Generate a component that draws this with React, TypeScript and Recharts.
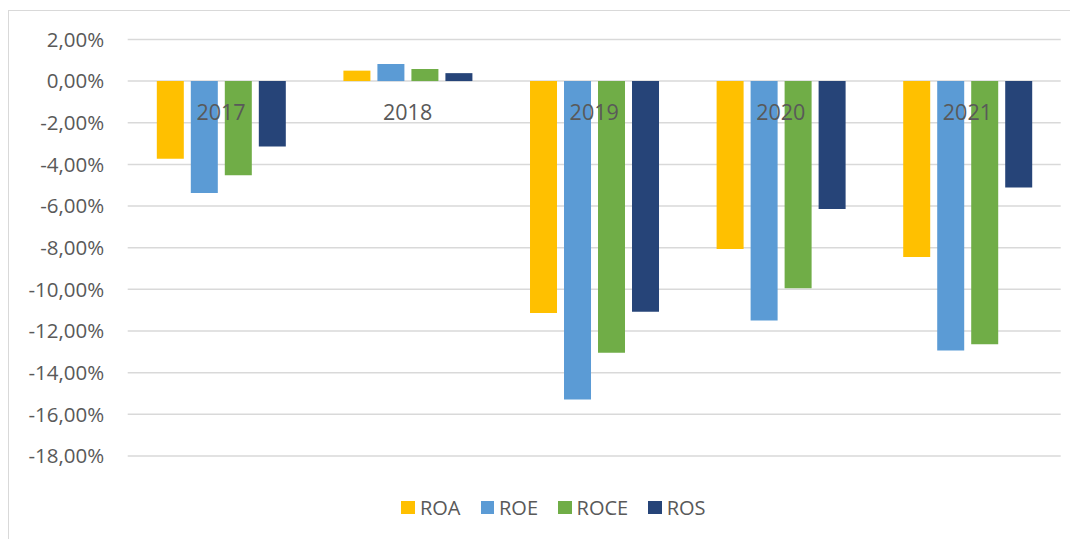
import { BarChart, Bar, XAxis, YAxis, CartesianGrid, Legend } from 'recharts';

const years = ['2017', '2018', '2019', '2020', '2021'];
const roa = [-3.73, 0.5, -11.14, -8.06, -8.45];
const roe = [-5.37, 0.82, -15.29, -11.49, -12.93];
const roce = [-4.52, 0.58, -13.04, -9.95, -12.64];
const ros = [-3.14, 0.38, -11.07, -6.14, -5.11];
const yTicks = [2, 0, -2, -4, -6, -8, -10, -12, -14, -16, -18];

const series = [
  { key: 'ROA', values: roa, color: '#FFC000' },
  { key: 'ROE', values: roe, color: '#5B9BD5' },
  { key: 'ROCE', values: roce, color: '#70AD47' },
  { key: 'ROS', values: ros, color: '#264478' },
];

const data = years.map((year, i) => {
  const row: Record<string, string | number> = { year };
  series.forEach(s => { row[s.key] = s.values[i]; });
  return row;
});

const W = 1068;
const H = 527;
const margin = { top: 28.4, right: 16.3, bottom: 57, left: 0 };
const plotH = 416.6;
const yMax = 2;
const yMin = -18;
const zeroY = margin.top + (plotH * (yMax - 0)) / (yMax - yMin);
const font = '"Open Sans", Lato, sans-serif';
const textColor = '#595959';

const fmt = (v: number) => `${v.toFixed(2).replace('.', ',')}%`;

function YearTick(props: any) {
  const { x, payload } = props;
  return (
    <text x={x} y={zeroY + 30.5} textAnchor="middle" dominantBaseline="central"
      fill={textColor} fontSize={21.5} fontFamily={font}>
      {payload.value}
    </text>
  );
}

function LegendContent() {
  return (
    <div style={{ display: 'flex', justifyContent: 'center', gap: 20, paddingLeft: 21, fontFamily: font, fontSize: 20, color: textColor }}>
      {series.map(s => (
        <div key={s.key} style={{ display: 'flex', alignItems: 'center' }}>
          <span style={{ width: 13.5, height: 13.5, background: s.color, marginRight: 5, display: 'inline-block' }} />
          <span>{s.key}</span>
        </div>
      ))}
    </div>
  );
}

export default function App() {
  return (
    <div style={{ marginTop: 2, width: 1069, height: 540, border: '1px solid #d9d9d9', borderRight: 'none', borderBottom: 'none', background: '#fff' }}>
      <BarChart width={W} height={H} data={data} margin={margin} barCategoryGap="15.6%" barGap={7}>
        <CartesianGrid vertical={false} stroke="#d9d9d9" strokeWidth={1.5} />
        <XAxis dataKey="year" axisLine={false} tickLine={false} tick={<YearTick />} height={1} interval={0} />
        <YAxis
          domain={[yMin, yMax]}
          ticks={yTicks}
          tickFormatter={fmt}
          axisLine={false}
          tickLine={false}
          width={118.7}
          tickMargin={17.5}
          tick={{ fill: textColor, fontSize: 20.5, fontFamily: font }}
          interval={0}
        />
        <Legend verticalAlign="bottom" height={24} content={<LegendContent />} wrapperStyle={{ top: 483, left: 0, width: W }} />
        {series.map(s => (
          <Bar key={s.key} dataKey={s.key} fill={s.color} isAnimationActive={false} />
        ))}
      </BarChart>
    </div>
  );
}
